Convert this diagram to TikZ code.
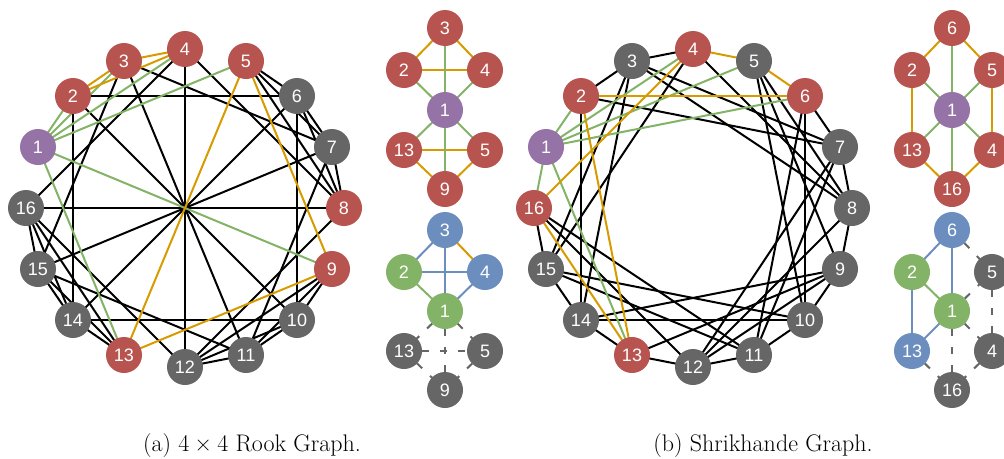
\documentclass[tikz,border=0pt]{standalone}
\usepackage{fontspec}
\newfontfamily\arialfam{Liberation Sans}
\pgfdeclarelayer{edges}
\pgfsetlayers{edges,main}
\definecolor{nred}{RGB}{184,84,80}
\definecolor{ngray}{RGB}{102,102,102}
\definecolor{npurple}{RGB}{150,115,166}
\definecolor{nblue}{RGB}{108,142,191}
\definecolor{ngreen}{RGB}{130,179,102}
\definecolor{eorange}{RGB}{215,155,0}
\tikzset{
  vtx/.style={circle, minimum size=36pt, inner sep=0pt, text=white, font=\arialfam\fontsize{18}{18}\selectfont},
  eb/.style={line width=2pt, black},
  eg/.style={line width=2pt, ngreen},
  eo/.style={line width=2pt, eorange},
  eu/.style={line width=2pt, nblue},
  ed/.style={line width=2pt, ngray, dash pattern=on 7pt off 11pt},
  captxt/.style={anchor=base, font=\fontsize{24}{28}\selectfont}
}
\begin{document}
\begin{tikzpicture}[x=1pt,y=-1pt]
\useasboundingbox (0,0) rectangle (1004,458);
% ---------- left main graph (rook) ----------
\foreach \k/\c in {1/npurple,2/nred,3/nred,4/nred,5/nred,6/ngray,7/ngray,8/nred,9/nred,10/ngray,11/ngray,12/ngray,13/nred,14/ngray,15/ngray,16/ngray}{
  \pgfmathsetmacro\a{90+(4-\k)*22.5}
  \pgfmathsetmacro\px{round(185+159*cos(\a))}
  \pgfmathsetmacro\py{round(208-159*sin(\a))}
  \node[vtx, fill=\c] (L\k) at (\px,\py) {\k};
}
% ---------- right main graph (Shrikhande) ----------
\foreach \k/\c in {1/npurple,2/nred,3/ngray,4/nred,5/ngray,6/nred,7/ngray,8/ngray,9/ngray,10/ngray,11/ngray,12/ngray,13/nred,14/ngray,15/ngray,16/nred}{
  \pgfmathsetmacro\a{90+(4-\k)*22.5}
  \pgfmathsetmacro\px{round(693+159*cos(\a))}
  \pgfmathsetmacro\py{round(208-159*sin(\a))}
  \node[vtx, fill=\c] (R\k) at (\px,\py) {\k};
}
% ---------- left side diagrams ----------
\node[vtx, fill=nred] (la3) at (445,28) {3};
\node[vtx, fill=nred] (la2) at (404,70) {2};
\node[vtx, fill=nred] (la4) at (485,70) {4};
\node[vtx, fill=npurple] (la1) at (445,110) {1};
\node[vtx, fill=nred] (la13) at (404,150) {13};
\node[vtx, fill=nred] (la5) at (485,150) {5};
\node[vtx, fill=nred] (la9) at (445,189) {9};
\node[vtx, fill=nblue] (lb3) at (445,230) {3};
\node[vtx, fill=ngreen] (lb2) at (404,272) {2};
\node[vtx, fill=nblue] (lb4) at (485,272) {4};
\node[vtx, fill=ngreen] (lb1) at (445,311) {1};
\node[vtx, fill=ngray] (lb13) at (404,351) {13};
\node[vtx, fill=ngray] (lb5) at (485,351) {5};
\node[vtx, fill=ngray] (lb9) at (445,390) {9};
% ---------- right side diagrams ----------
\node[vtx, fill=nred] (ra6) at (952,28) {6};
\node[vtx, fill=nred] (ra2) at (912,70) {2};
\node[vtx, fill=nred] (ra5) at (992,70) {5};
\node[vtx, fill=npurple] (ra1) at (952,110) {1};
\node[vtx, fill=nred] (ra13) at (912,150) {13};
\node[vtx, fill=nred] (ra4) at (992,150) {4};
\node[vtx, fill=nred] (ra16) at (952,189) {16};
\node[vtx, fill=nblue] (rb6) at (952,230) {6};
\node[vtx, fill=ngreen] (rb2) at (912,272) {2};
\node[vtx, fill=ngray] (rb5) at (992,272) {5};
\node[vtx, fill=ngreen] (rb1) at (952,311) {1};
\node[vtx, fill=nblue] (rb13) at (912,351) {13};
\node[vtx, fill=ngray] (rb4) at (992,351) {4};
\node[vtx, fill=ngray] (rb16) at (952,390) {16};
% ---------- captions ----------
\node[captxt] (capa) at (252,451) {(a) 4\hspace{0.222em}×\hspace{0.222em}4 Rook Graph.};
\node[captxt] (capb) at (763,451) {(b) Shrikhande Graph.};
% ---------- edges ----------
\begin{pgfonlayer}{edges}
\foreach \i/\j in {5/6,5/7,5/8,6/7,6/8,7/8,9/10,9/11,9/12,10/11,10/12,11/12,13/14,13/15,13/16,14/15,14/16,15/16,2/6,2/10,2/14,6/10,6/14,10/14,3/7,3/11,3/15,7/11,7/15,11/15,4/8,4/12,4/16,8/12,8/16,12/16}
  \draw[eb] (L\i.center) -- (L\j.center);
\foreach \j in {2,3,4,5,9,13} \draw[eg] (L1.center) -- (L\j.center);
\foreach \i/\j in {2/3,2/4,3/4,5/9,5/13,9/13} \draw[eo] (L\i.center) -- (L\j.center);
\foreach \i/\j in {2/3,3/4,6/7,7/8,5/8,9/10,10/11,11/12,9/12,13/14,14/15,15/16,5/9,9/13,6/10,10/14,2/14,3/7,7/11,11/15,3/15,4/8,8/12,12/16,2/7,3/8,5/10,6/11,7/12,8/9,9/14,10/15,11/16,12/13,3/14,4/15}
  \draw[eb] (R\i.center) -- (R\j.center);
\foreach \j in {2,4,5,6,13,16} \draw[eg] (R1.center) -- (R\j.center);
\foreach \i/\j in {4/5,5/6,2/6,2/13,4/16,13/16} \draw[eo] (R\i.center) -- (R\j.center);
% side upper-left
\foreach \i/\j in {3/2,3/4,2/4,13/5,13/9,5/9} \draw[eo] (la\i.center) -- (la\j.center);
\foreach \j in {3,2,4,13,5,9} \draw[eg] (la1.center) -- (la\j.center);
% side lower-left
\foreach \i/\j in {1/13,1/5,1/9,13/5,13/9,5/9} \draw[ed] (lb\i.center) -- (lb\j.center);
\foreach \i/\j in {3/2,3/1,2/4,4/1} \draw[eu] (lb\i.center) -- (lb\j.center);
\draw[eo] (lb3.center) -- (lb4.center);
\draw[eg] (lb2.center) -- (lb1.center);
% side upper-right
\foreach \i/\j in {6/2,6/5,2/13,5/4,13/16,4/16} \draw[eo] (ra\i.center) -- (ra\j.center);
\foreach \j in {6,2,5,13,4,16} \draw[eg] (ra1.center) -- (ra\j.center);
% side lower-right
\foreach \i/\j in {6/5,1/5,5/4,1/4,1/16,13/16,4/16} \draw[ed] (rb\i.center) -- (rb\j.center);
\foreach \i/\j in {6/2,6/1,2/13,13/1} \draw[eu] (rb\i.center) -- (rb\j.center);
\draw[eg] (rb2.center) -- (rb1.center);
\end{pgfonlayer}
\end{tikzpicture}
\end{document}
